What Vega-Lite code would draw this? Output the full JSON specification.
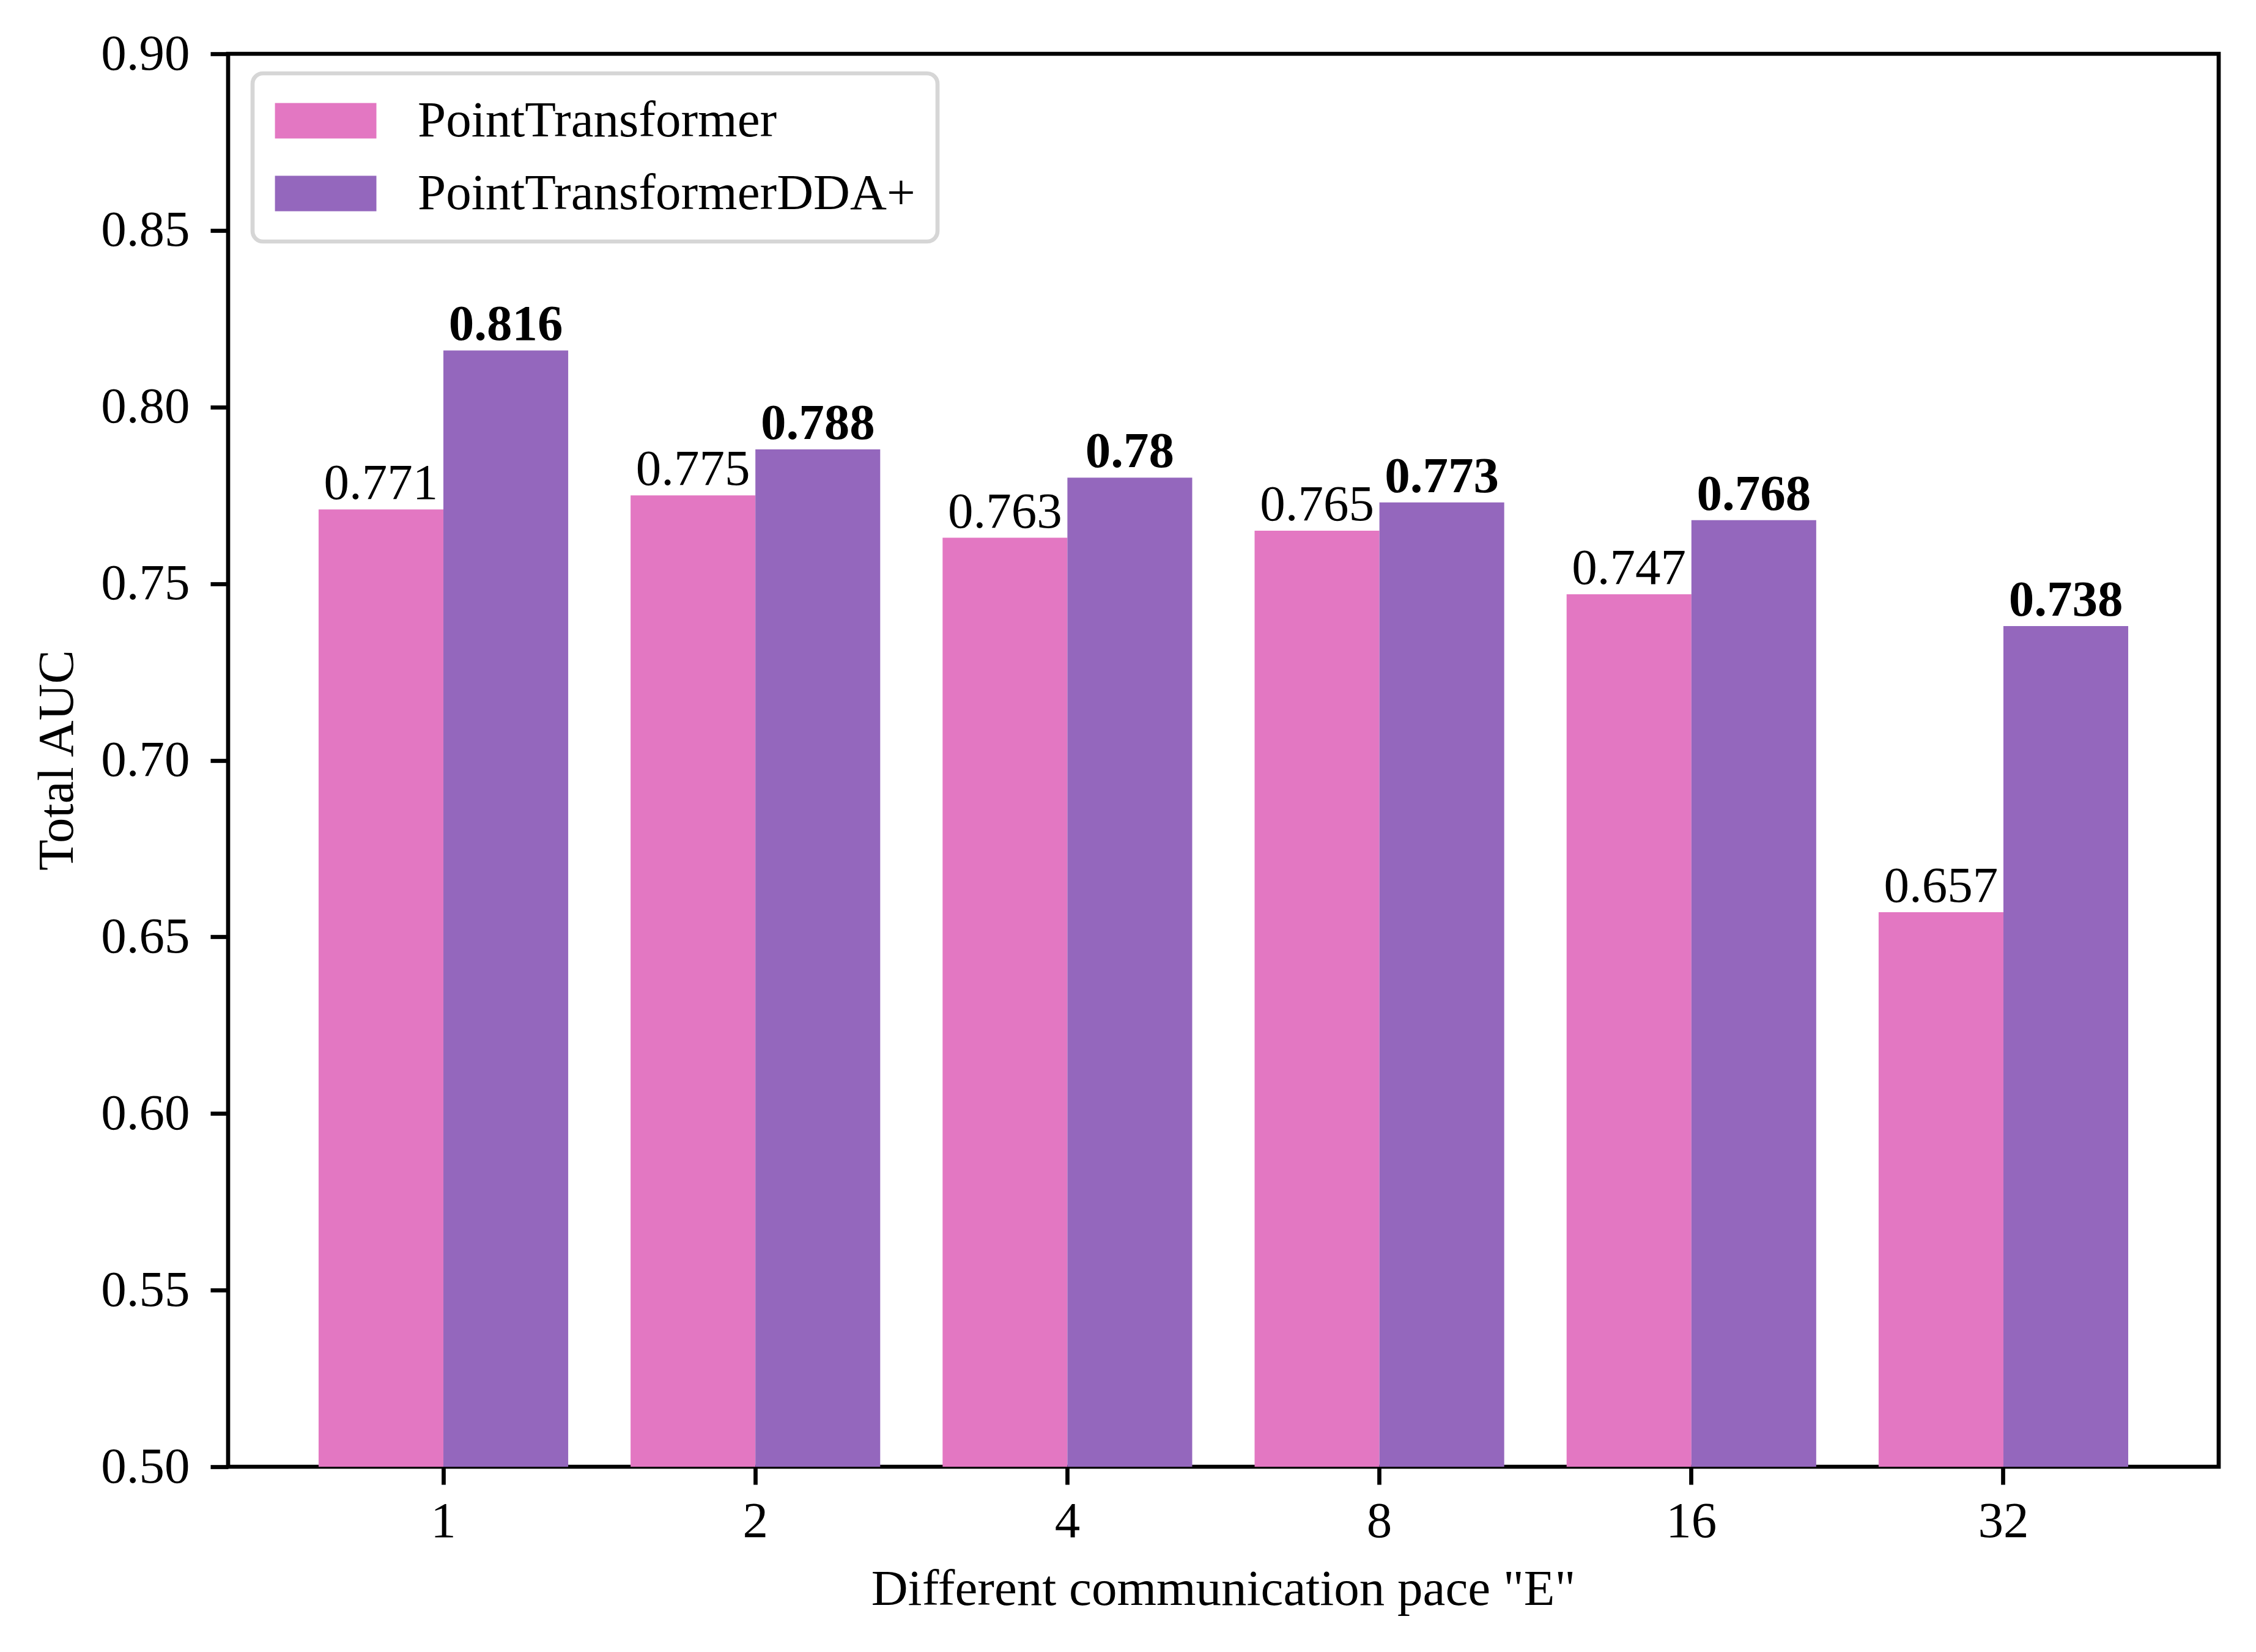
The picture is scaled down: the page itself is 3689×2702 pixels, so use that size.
{
  "$schema": "https://vega.github.io/schema/vega-lite/v6.json",
  "autosize": "none",
  "width": 3255,
  "height": 2311,
  "padding": {"left": 373, "top": 88, "right": 61, "bottom": 303},
  "background": "white",
  "config": {
    "font": "Liberation Serif",
    "view": {"stroke": "black", "strokeWidth": 6.7},
    "axis": {
      "domain": false,
      "grid": false,
      "tickColor": "black",
      "tickWidth": 6.7,
      "tickSize": 29,
      "labelFont": "Liberation Serif",
      "labelFontSize": 83,
      "labelColor": "black",
      "titleFont": "Liberation Serif",
      "titleFontSize": 83,
      "titleFontWeight": "normal",
      "titleColor": "black"
    },
    "legend": {
      "labelFont": "Liberation Serif",
      "labelFontSize": 83,
      "labelColor": "black",
      "labelLimit": 3000
    }
  },
  "data": {
    "values": [
      {"E": 1, "series": "PointTransformer", "auc": 0.771},
      {"E": 1, "series": "PointTransformerDDA+", "auc": 0.816},
      {"E": 2, "series": "PointTransformer", "auc": 0.775},
      {"E": 2, "series": "PointTransformerDDA+", "auc": 0.788},
      {"E": 4, "series": "PointTransformer", "auc": 0.763},
      {"E": 4, "series": "PointTransformerDDA+", "auc": 0.78},
      {"E": 8, "series": "PointTransformer", "auc": 0.765},
      {"E": 8, "series": "PointTransformerDDA+", "auc": 0.773},
      {"E": 16, "series": "PointTransformer", "auc": 0.747},
      {"E": 16, "series": "PointTransformerDDA+", "auc": 0.768},
      {"E": 32, "series": "PointTransformer", "auc": 0.657},
      {"E": 32, "series": "PointTransformerDDA+", "auc": 0.738}
    ]
  },
  "encoding": {
    "x": {
      "field": "E",
      "type": "ordinal",
      "scale": {"paddingInner": 0.2, "paddingOuter": 0.29},
      "axis": {
        "title": "Different communication pace \"E\"",
        "labelAngle": 0,
        "labelPadding": 19,
        "bandPosition": 0.5,
        "titleX": 1627,
        "titleY": 225,
        "titleAlign": "center",
        "titleBaseline": "alphabetic"
      }
    },
    "xOffset": {
      "field": "series",
      "type": "nominal",
      "scale": {"paddingInner": 0, "paddingOuter": 0}
    },
    "y": {
      "field": "auc",
      "type": "quantitative",
      "scale": {"domain": [0.5, 0.9], "zero": false, "nice": false},
      "axis": {
        "title": "Total AUC",
        "values": [0.5, 0.55, 0.6, 0.65, 0.7, 0.75, 0.8, 0.85, 0.9],
        "format": ".2f",
        "labelPadding": 34,
        "titleAngle": -90,
        "titleX": -255,
        "titleY": 1155,
        "titleAlign": "center",
        "titleBaseline": "alphabetic"
      }
    }
  },
  "layer": [
    {
      "mark": {"type": "bar", "strokeWidth": 0},
      "encoding": {
        "y2": {"datum": 0.5},
        "color": {
          "field": "series",
          "type": "nominal",
          "scale": {"domain": ["PointTransformer", "PointTransformerDDA+"], "range": ["#e377c2", "#9467bd"]},
          "legend": {
            "title": null,
            "orient": "none",
            "legendX": 40,
            "legendY": 32,
            "symbolType": "M-1.41,-1H4.31V1H-1.41Z",
            "symbolSize": 3364,
            "symbolStrokeWidth": 0,
            "symbolOpacity": 1,
            "labelOffset": 151,
            "rowPadding": 35,
            "padding": 36,
            "fillColor": "white",
            "strokeColor": "#d6d6d6",
            "cornerRadius": 17,
            "encode": {"legend": {"update": {"strokeWidth": {"value": 6.7}}}}
          }
        }
      }
    },
    {
      "transform": [{"filter": "datum.series === 'PointTransformer'"}],
      "mark": {"type": "text", "baseline": "alphabetic", "align": "center", "dy": -17, "fontSize": 83, "color": "black"},
      "encoding": {"text": {"field": "auc", "type": "quantitative", "format": ".3~f"}}
    },
    {
      "transform": [{"filter": "datum.series === 'PointTransformerDDA+'"}],
      "mark": {"type": "text", "baseline": "alphabetic", "align": "center", "dy": -17, "fontSize": 83, "fontWeight": "bold", "color": "black"},
      "encoding": {"text": {"field": "auc", "type": "quantitative", "format": ".3~f"}}
    }
  ]
}
